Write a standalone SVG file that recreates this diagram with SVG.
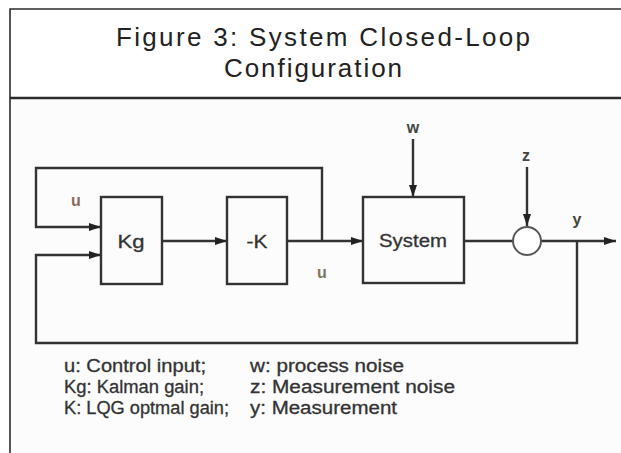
<svg xmlns="http://www.w3.org/2000/svg" width="621" height="453" viewBox="0 0 621 453">
<style>
.frame{stroke:#2b2b2b;fill:none}
.blk{fill:none;stroke:#333;stroke-width:2.4}
.ln{fill:none;stroke:#333;stroke-width:2.4}
.title{font-family:"Liberation Sans",Arial,sans-serif;font-size:26px;fill:#222;text-anchor:middle}
.lbl{font-family:"Liberation Sans",Arial,sans-serif;font-size:18px;fill:#333;text-anchor:middle;dominant-baseline:central;stroke:#333;stroke-width:0.3}
.var{font-family:"Liberation Sans",Arial,sans-serif;font-size:16px;font-weight:bold;text-anchor:middle;dominant-baseline:central}
.leg{font-family:"Liberation Sans",Arial,sans-serif;font-size:18px;fill:#333;stroke:#333;stroke-width:0.3}
</style>
<defs>
<marker id="ah" viewBox="0 0 12 8" refX="12" refY="4" markerWidth="12" markerHeight="8" markerUnits="userSpaceOnUse" orient="auto">
<path d="M0,0 L12,4 L0,8 z" fill="#222"/>
</marker>
</defs>
<rect x="0" y="0" width="621" height="453" fill="#ffffff"/>
<rect x="12" y="100" width="609" height="353" fill="#fcfcfc"/>
<g id="frame">
<path class="frame" d="M10,453 V9 H621" stroke-width="1.6"/>
<path class="frame" d="M10,98 H621" stroke-width="2.6"/>
</g>
<g id="title">
<text class="title" x="323" y="46" textLength="414" lengthAdjust="spacing">Figure 3: System Closed-Loop</text>
<text class="title" x="313" y="77" textLength="178" lengthAdjust="spacing">Configuration</text>
</g>
<g id="connectors">
<line class="ln" x1="162" y1="241" x2="227" y2="241" marker-end="url(#ah)"/>
<line class="ln" x1="287" y1="241" x2="363" y2="241" marker-end="url(#ah)"/>
<path class="ln" d="M322,241 V168 H36 V227 H101" marker-end="url(#ah)"/>
<path class="ln" d="M577,241 V343 H36 V255 H101" marker-end="url(#ah)"/>
<line class="ln" x1="413" y1="139" x2="413" y2="197" marker-end="url(#ah)"/>
<line class="ln" x1="527" y1="167" x2="527" y2="226" marker-end="url(#ah)"/>
<line class="ln" x1="464" y1="241" x2="513" y2="241"/>
<line class="ln" x1="541" y1="241" x2="616" y2="241" marker-end="url(#ah)"/>
</g>
<g id="kg">
<rect class="blk" x="101" y="197" width="61" height="87"/>
<text class="lbl" x="131" y="242" textLength="27" lengthAdjust="spacingAndGlyphs">Kg</text>
</g>
<g id="negk">
<rect class="blk" x="227" y="197" width="60" height="87"/>
<text class="lbl" x="257" y="242" textLength="21" lengthAdjust="spacingAndGlyphs">-K</text>
</g>
<g id="system">
<rect class="blk" x="363" y="197" width="101" height="86"/>
<text class="lbl" x="413" y="241" textLength="68" lengthAdjust="spacingAndGlyphs">System</text>
</g>
<g id="sum">
<circle cx="527" cy="241" r="14" fill="#fff" stroke="#555" stroke-width="2"/>
</g>
<g id="labels">
<text class="var" x="76" y="200" fill="#8a6a5a">u</text>
<text class="var" x="322" y="272" fill="#7a7a5a">u</text>
<text class="var" x="413" y="127" fill="#444">w</text>
<text class="var" x="526" y="155" fill="#444">z</text>
<text class="var" x="577" y="219" fill="#444">y</text>
</g>
<g id="legend">
<text class="leg" x="64" y="372" textLength="142" lengthAdjust="spacingAndGlyphs">u: Control input;</text>
<text class="leg" x="64" y="393" textLength="140" lengthAdjust="spacingAndGlyphs">Kg: Kalman gain;</text>
<text class="leg" x="64" y="414" textLength="165" lengthAdjust="spacingAndGlyphs">K: LQG optmal gain;</text>
<text class="leg" x="250" y="372" textLength="154" lengthAdjust="spacingAndGlyphs">w: process noise</text>
<text class="leg" x="250" y="393" textLength="205" lengthAdjust="spacingAndGlyphs">z: Measurement noise</text>
<text class="leg" x="250" y="414" textLength="147" lengthAdjust="spacingAndGlyphs">y: Measurement</text>
</g>
</svg>
